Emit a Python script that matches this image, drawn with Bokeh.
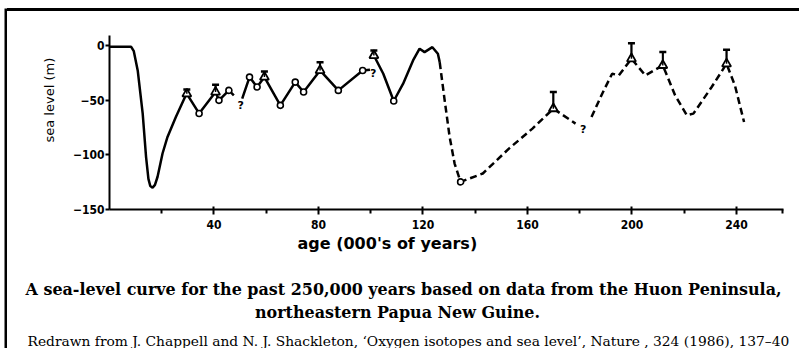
from bokeh.plotting import figure
from bokeh.models import FixedTicker, Range1d, Title, Spacer
from bokeh.layouts import row, column
from bokeh.core.properties import value
from bokeh.embed import file_html
from bokeh.resources import INLINE

# ---- data (age in thousands of years, sea level in m) ----
seg1_x = [0, 8.3, 9.3, 10.8, 12.7, 14.0, 14.9, 15.6, 16.5, 17.4, 18.4, 20.3, 22.2, 25.4, 28.6, 29.6, 34.3, 40.6, 41.9, 45.7, 47.6]
seg1_y = [-1, -1, -5, -22.6, -62, -102, -122, -128.5, -130, -127.5, -120, -98.7, -83.5, -65.3, -48.5, -44, -62, -42.4, -50, -40.9, -45.4]

seg2_x = [50.8, 53.6, 56.5, 59.3, 65.4, 71.1, 74.3, 80.6, 87.6, 96.9, 99.7]
seg2_y = [-48.5, -28.7, -37.8, -28.7, -54.6, -33.3, -42.4, -22.6, -40.9, -22.6, -22]

seg3_x = [101.2, 104.8, 108.8, 112.4, 116.2, 118.7, 120.6, 123.6, 125.7, 126.4]
seg3_y = [-8.9, -25.6, -50.6, -34.7, -13.4, -2.7, -5.8, -1.3, -7.3, -15]

seg4_x = [126.4, 128.3, 130.2, 132.1, 134.4, 142.9, 153.0, 161.9, 169.9, 178.4]
seg4_y = [-15, -50, -83.5, -107.9, -124.7, -117, -94, -75.9, -57.6, -71.3]

seg5_x = [184.5, 188.6, 192.4, 195.0, 199.8, 205.1, 211.8, 216.5, 221.0, 223.5, 230.5, 236.2, 239.4, 242.9]
seg5_y = [-65.3, -43.9, -25.6, -27.1, -11.9, -27.1, -18, -45.4, -63.7, -62.2, -37.8, -16.5, -36.3, -69.8]

circle_x = [34.3, 41.9, 45.7, 53.6, 56.5, 65.4, 71.1, 74.3, 87.6, 96.9, 108.8, 134.4]
circle_y = [-62, -50, -40.9, -28.7, -37.8, -54.6, -33.3, -42.4, -40.9, -22.6, -50.6, -124.7]

err_x = [29.6, 40.6, 59.3, 80.6, 101.2, 169.9, 199.8, 211.8, 236.2]
err_y = [-44, -42.4, -28.7, -22.6, -8.9, -57.6, -11.9, -18, -16.5]
err_top = [-40, -35.7, -23.5, -15, -4.3, -42.4, 2.4, -5.8, -3.7]

q_x = [50.2, 100.9, 181.3]
q_y = [-55, -25.6, -77]

x_ticks = [40, 80, 120, 160, 200, 240]
x_minor = [20, 60, 100, 140, 180, 220, 257.8]
y_ticks = [0, -50, -100, -150]
y_labels = {0: "0", -50: "\u221250", -100: "\u2212100", -150: "\u2212150"}

x_label = "age (000's of years)"
y_label = "sea level (m)"
title1 = "A sea-level curve for the past 250,000 years based on data from the Huon Peninsula,"
title2 = "northeastern Papua New Guine."
caption = "Redrawn from J. Chappell and N. J. Shackleton, \u2018Oxygen isotopes and sea level\u2019, Nature , 324 (1986), 137\u201340"

axis_font = "DejaVu Sans Condensed"

# ---- main chart ----
p = figure(width=792, height=337, output_backend="svg", toolbar_location=None,
           x_range=Range1d(0, 258), y_range=Range1d(-150, 9.4),
           min_border_left=102, min_border_right=16, min_border_top=24, min_border_bottom=139)
p.outline_line_color = None
p.xgrid.visible = False
p.ygrid.visible = False
p.background_fill_color = "white"
p.border_fill_color = "white"

p.xaxis.ticker = FixedTicker(ticks=x_ticks, minor_ticks=x_minor)
p.yaxis.ticker = FixedTicker(ticks=y_ticks)
p.yaxis.major_label_overrides = y_labels
for ax in (p.xaxis, p.yaxis):
    ax.axis_line_width = 2
    ax.axis_line_color = "black"
    ax.major_tick_line_width = 2
    ax.major_tick_line_color = "black"
    ax.minor_tick_line_width = 2
    ax.minor_tick_line_color = "black"
    ax.major_label_text_font = axis_font
    ax.major_label_text_font_style = "bold"
    ax.major_label_text_font_size = "12px"
    ax.major_label_text_color = "black"
p.xaxis.major_tick_out = 5
p.xaxis.major_tick_in = 3
p.xaxis.minor_tick_out = 4
p.xaxis.minor_tick_in = 0
p.xaxis.major_label_standoff = 5
p.yaxis.major_tick_out = 4
p.yaxis.major_tick_in = 0
p.yaxis.minor_tick_out = 0
p.yaxis.minor_tick_in = 0
p.yaxis.major_label_standoff = 1

p.add_layout(Title(text=y_label, align="left", offset=67, standoff=26,
                   text_font="DejaVu Sans", text_font_size="13px",
                   text_font_style="normal", text_color="black"), "left")

# texts under the chart, stacked below the x axis (blank titles act as spacers)
def below_title(text, offset, standoff, font, size, style):
    p.add_layout(Title(text=text, align="left", offset=offset, standoff=standoff,
                       text_font=font, text_font_size=size,
                       text_font_style=style, text_color="black"), "below")

below_title(x_label, 188, 0, "DejaVu Sans", "16px", "bold")
below_title("\u00a0", 0, 11.2, "DejaVu Sans", "10px", "normal")
below_title(title1, -84, 3, "DejaVu Serif", "15.95px", "bold")
below_title(title2, 145.5, 2.2, "DejaVu Serif", "15.95px", "bold")
below_title("\u00a0", 0, 0, "DejaVu Sans", "4px", "normal")
below_title(caption, -82, 0, "DejaVu Serif", "13.8px", "normal")

# curve
p.line(seg1_x, seg1_y, line_width=2.5, color="black")
p.line(seg2_x, seg2_y, line_width=2.5, color="black")
p.line(seg3_x, seg3_y, line_width=2.5, color="black")
p.line(seg4_x, seg4_y, line_width=2.5, color="black", line_dash="7 4")
p.line(seg5_x, seg5_y, line_width=2.5, color="black", line_dash="7 4")

# error bars with triangles
p.segment(err_x, err_y, err_x, err_top, line_width=2, color="black")
p.scatter(err_x, err_top, marker="dash", size=7, line_width=2.5, color="black")
p.scatter(err_x, err_y, marker="triangle", size=9, line_width=1.8,
          line_color="black", fill_color="white")
p.segment(err_x, err_y, err_x, err_top, line_width=1.5, color="black")

# open circles
p.scatter(circle_x, circle_y, marker="circle", size=6, line_width=1.6,
          line_color="black", fill_color="white")

# question marks
p.text(q_x, q_y, text=["?"] * len(q_x), text_font=value("DejaVu Sans"),
       text_font_style="bold", text_font_size="11px", text_align="center",
       text_baseline="middle", text_color="black")

# ---- black frame lines (left and top) ----
left_bar = figure(width=3, height=340, output_backend="svg", toolbar_location=None,
                  x_axis_type=None, y_axis_type=None, min_border=0)
left_bar.outline_line_color = None
left_bar.xgrid.visible = False
left_bar.ygrid.visible = False
left_bar.background_fill_color = "black"
left_bar.border_fill_color = "black"

top_bar = Spacer(width=792, height=3, styles={"background-color": "black"})

layout = column(Spacer(width=799, height=8),
                row(Spacer(width=4, height=340), left_bar,
                    column(top_bar, p, spacing=0), spacing=0),
                spacing=0)

open("out.html", "w").write(file_html(layout, INLINE))
